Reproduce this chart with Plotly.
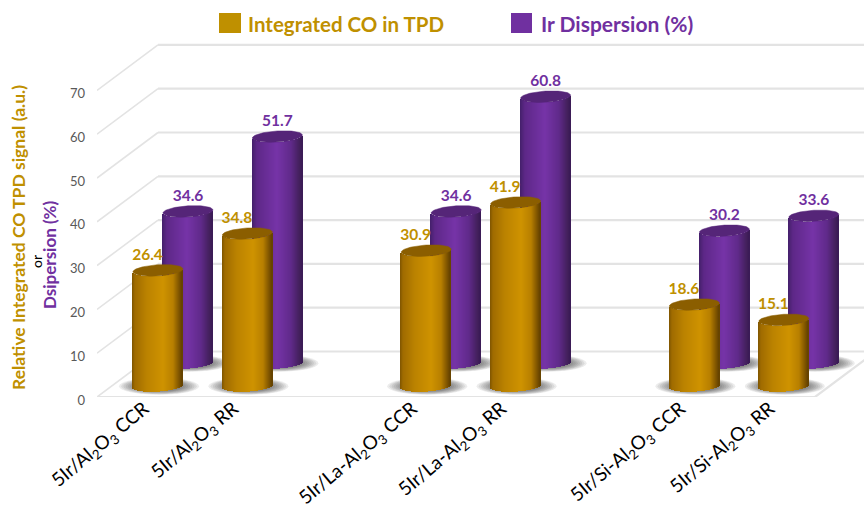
import numpy as np
import plotly.graph_objects as go

# Chart data
categories = [
    "5Ir/Al<sub>2</sub>O<sub>3</sub> CCR",
    "5Ir/Al<sub>2</sub>O<sub>3</sub> RR",
    "5Ir/La-Al<sub>2</sub>O<sub>3</sub> CCR",
    "5Ir/La-Al<sub>2</sub>O<sub>3</sub> RR",
    "5Ir/Si-Al<sub>2</sub>O<sub>3</sub> CCR",
    "5Ir/Si-Al<sub>2</sub>O<sub>3</sub> RR",
]
integrated_co = [26.4, 34.8, 30.9, 41.9, 18.6, 15.1]
ir_dispersion = [34.6, 51.7, 34.6, 60.8, 30.2, 33.6]
y_ticks = [0, 10, 20, 30, 40, 50, 60, 70]
slots = np.array([0, 1, 3, 4, 6, 7], dtype=float)

# Frame geometry: plot area in pixels and the scale of both axes
W, H = 864, 508
LEFT, BOTTOM, TOP = 97, 397, 30
PX_X = 89.4          # pixels per category slot
PX_Y = 4.38          # pixels per value unit
X0 = (LEFT - 158) / PX_X
X1 = (W - 158) / PX_X
Y1 = (BOTTOM - TOP) / PX_Y

DEPTH_X, DEPTH_Y = 61 / PX_X, 45.5 / PX_Y
RIGHT_END = (815 - 158) / PX_X

R_X = 25 / PX_X      # cylinder half width
R_Y = 5.6 / PX_Y     # ellipse half height
TILT = 1.5 / PX_Y    # slant of the ellipses
FRONT_FLOOR = 11 / PX_Y
BACK_FLOOR = 34 / PX_Y
BACK_SHIFT = 30 / PX_X
LABEL_SHIFT = 14 / PX_X

GOLD = "#BF9000"
PURPLE = "#7030A0"
GRID = "#E3E3E3"

gold_stops = [(0, "#7F5400"), (.06, "#A06C00"), (.3, "#BC8300"), (.62, "#CF9300"),
              (.82, "#B88000"), (.95, "#7A5100"), (1, "#634100")]
purple_stops = [(0, "#44206A"), (.1, "#5E2888"), (.5, "#7634A8"), (.78, "#602A8A"),
                (.95, "#43205C"), (1, "#3A1A55")]


def hex_rgb(c):
    return np.array([int(c[i:i + 2], 16) for i in (1, 3, 5)], dtype=float)


def ramp(stops, t):
    ts = [s[0] for s in stops]
    cols = np.array([hex_rgb(s[1]) for s in stops])
    rgb = [np.interp(t, ts, cols[:, k]) for k in range(3)]
    return "rgb(%d,%d,%d)" % tuple(rgb)


fig = go.Figure()
N = 50
STRIP = 1.5 / PX_X


def add_cylinders(values, centres, floor, stops, top_colour, label_colour, label_dx, name):
    values = np.array(values, dtype=float)
    # Side of the cylinder: one bar trace per vertical shading strip
    for i in range(N):
        u = -1 + 2 * (i + 0.5) / N
        front = R_Y * np.sqrt(1 - u * u) - TILT * u
        fig.add_trace(go.Bar(
            x=centres + u * R_X,
            y=values,
            base=np.full(len(values), floor - front),
            width=STRIP,
            marker=dict(color=ramp(stops, (u + 1) / 2), line=dict(width=0)),
            showlegend=False,
            hoverinfo="skip",
            name=name,
        ))
    # Top face of each cylinder
    th = np.linspace(0, 2 * np.pi, 73)
    for cx, v in zip(centres, values):
        fig.add_trace(go.Scatter(
            x=cx + R_X * np.sin(th),
            y=floor + v + R_Y * np.cos(th) + TILT * np.sin(th),
            mode="lines",
            fill="toself",
            fillcolor=top_colour,
            line=dict(width=0.5, color=top_colour),
            showlegend=False,
            hoverinfo="skip",
        ))
    # Value labels above the top faces
    fig.add_trace(go.Scatter(
        x=centres + label_dx,
        y=values + floor + 14.5 / PX_Y,
        mode="text",
        text=["%.1f" % v for v in values],
        textposition="middle center",
        textfont=dict(family="Lato", size=15.5, color=label_colour, weight="bold"),
        showlegend=False,
        hoverinfo="skip",
    ))


def grid_line(x0, y0, x1, y1, width=2.2):
    return dict(type="line", xref="x", yref="y", x0=x0, y0=y0, x1=x1, y1=y1,
                layer="below", line=dict(color=GRID, width=width))


def ellipse(cx, cy, rx, ry, alpha):
    return dict(type="circle", xref="x", yref="y", x0=cx - rx, x1=cx + rx,
                y0=cy - ry, y1=cy + ry, layer="below",
                fillcolor="rgba(30,30,30,%.3f)" % alpha, line=dict(width=0))


shapes = []
# Back wall and side wall gridlines
for v in y_ticks:
    shapes.append(grid_line(X0, v, X0 + DEPTH_X, v + DEPTH_Y, 1.6))
    shapes.append(grid_line(X0 + DEPTH_X, v + DEPTH_Y, X1, v + DEPTH_Y))
# Floor edges
shapes.append(grid_line(X0, 0, RIGHT_END, 0))
shapes.append(grid_line(RIGHT_END, 0, RIGHT_END + DEPTH_X, DEPTH_Y))

# Soft contact shadows under the cylinders
back_centres = slots + BACK_SHIFT
for centres, floor in ((back_centres, BACK_FLOOR), (slots, FRONT_FLOOR)):
    for cx in centres:
        for k in range(10):
            f = 1 - k * 0.055
            shapes.append(ellipse(cx + 1 / PX_X, floor - 0.2 / PX_Y,
                                  (40 / PX_X) * f, (8.5 / PX_Y) * f, 0.085))

add_cylinders(ir_dispersion, back_centres, BACK_FLOOR, purple_stops, "#552578", PURPLE, 0, "Ir Dispersion (%)")
add_cylinders(integrated_co, slots, FRONT_FLOOR, gold_stops, "#8B5E00", GOLD, -10.5 / PX_X, "Integrated CO in TPD")


def px(x):
    return (x - LEFT) / (W - LEFT)


def py(y):
    return (BOTTOM - y) / (BOTTOM - TOP)


# Legend swatches
for x0, x1, colour in ((219, 241, GOLD), (511, 532, PURPLE)):
    shapes.append(dict(type="rect", xref="paper", yref="paper", x0=px(x0), x1=px(x1),
                       y0=py(33), y1=py(13), fillcolor=colour, line=dict(width=0)))


def note(text, x, y, colour, size, angle=0, anchor="center", weight="bold"):
    return dict(text=text, xref="paper", yref="paper", x=px(x), y=py(y), showarrow=False,
                xanchor=anchor, yanchor="middle", textangle=angle,
                font=dict(family="Lato", size=size, color=colour, weight=weight))


annotations = [
    note("Integrated CO in TPD", 246, 24, GOLD, 20.5, anchor="left"),
    note("Ir Dispersion (%)", 539, 24, PURPLE, 21, anchor="left"),
    note("Relative Integrated CO TPD signal (a.u.)", 19, 238, GOLD, 17.5, angle=-90),
    note("or", 36, 262, "#000000", 14, angle=-90, weight="normal"),
    note("Dsipersion (%)", 49, 254, PURPLE, 17, angle=-90),
]

fig.update_layout(
    width=W,
    height=H,
    margin=dict(l=LEFT, r=0, t=TOP, b=H - BOTTOM, pad=0, autoexpand=False),
    paper_bgcolor="white",
    plot_bgcolor="white",
    barmode="overlay",
    bargap=0,
    showlegend=False,
    shapes=shapes,
    annotations=annotations,
    font=dict(family="Lato"),
    xaxis=dict(
        range=[X0, X1],
        tickmode="array",
        tickvals=(slots - LABEL_SHIFT).tolist(),
        ticktext=categories,
        tickangle=-40,
        tickfont=dict(family="Lato", size=19, color="#000000"),
        showgrid=False,
        zeroline=False,
        showline=False,
        ticks="",
        ticklabelstandoff=-4,
        automargin=False,
    ),
    yaxis=dict(
        range=[0, Y1],
        tickmode="array",
        tickvals=y_ticks,
        tickfont=dict(family="Lato", size=13, color="#595959"),
        showgrid=False,
        zeroline=False,
        showline=False,
        ticks="",
        ticklabelstandoff=11,
        ticklabelshift=3,
        automargin=False,
    ),
)

fig.write_html("out.html")
